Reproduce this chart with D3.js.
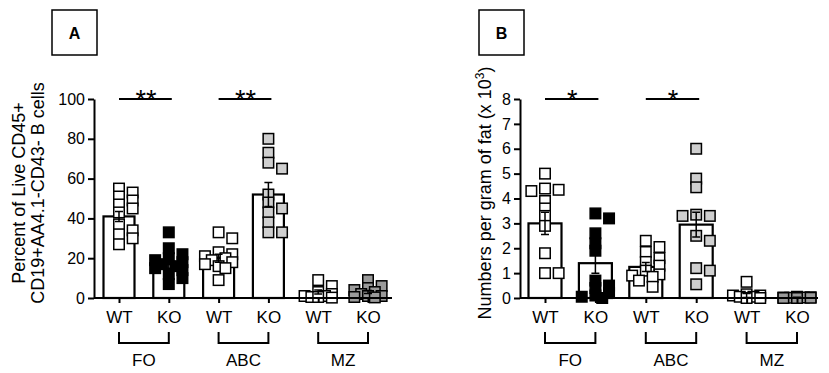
<!DOCTYPE html>
<html>
<head>
<meta charset="utf-8">
<script src="https://cdn.jsdelivr.net/npm/d3@7"></script>
<style>
  body { margin: 0; background: #fff; }
  text { font-family: Arial, "Liberation Sans", sans-serif; }
</style>
</head>
<body>
<script>
// categories
var groups = ["FO", "ABC", "MZ"];
var genotypes = ["WT", "KO"];
var keys = ["FO-WT", "FO-KO", "ABC-WT", "ABC-KO", "MZ-WT", "MZ-KO"];

// Panel A - percent of live CD45+ CD19+AA4.1-CD43- B cells
var foWtA = [55, 53, 51, 49, 47, 45, 43, 37, 34, 32, 30, 27];
var foKoA = [33, 25, 22, 20, 19, 18, 17, 16, 15, 14, 12, 10, 7];
var abcWtA = [33, 30, 23, 22, 21, 20, 19, 18, 17, 16, 15, 9];
var abcKoA = [80, 73, 68, 65, 52, 48, 45, 43, 38, 33, 33];
var mzWtA = [9, 6, 3, 2, 1, 1, 0.5, 0.5, 0.2];
var mzKoA = [9, 6, 5, 4, 3, 2, 1, 1, 0.5, 0.3];
var meansA = [41, 17, 20, 52, 3, 3];
var semA = [2.5, 2, 2, 6, 1, 0.8];
var ticksA = [0, 20, 40, 60, 80, 100];
var sigA = ["**", "**", ""];

// Panel B - numbers per gram of fat (x 10^3)
var foWtB = [5.0, 4.4, 4.35, 4.3, 3.9, 3.6, 3.3, 2.9, 1.8, 1.0, 1.0];
var foKoB = [3.4, 3.2, 2.6, 2.2, 1.9, 0.7, 0.5, 0.4, 0.2, 0.1, 0.05, 0.0];
var abcWtB = [2.3, 2.05, 1.85, 1.6, 1.45, 1.3, 1.1, 0.95, 0.9, 0.85, 0.7, 0.45];
var abcKoB = [6.0, 4.8, 4.45, 3.35, 3.3, 3.3, 2.5, 2.3, 1.2, 1.1, 0.55];
var mzWtB = [0.65, 0.15, 0.1, 0.1, 0.05, 0.05, 0.0, 0.0];
var mzKoB = [0.05, 0.03, 0.02, 0.02, 0.01, 0.01, 0, 0];
var meansB = [3.0, 1.4, 1.25, 2.95, 0.1, 0.02];
var semB = [0.45, 0.4, 0.18, 0.5, 0.08, 0.01];
var ticksB = [0, 1, 2, 3, 4, 5, 6, 7, 8];
var sigB = ["*", "*", ""];

var fills = ["#fff", "#000", "#fff", "#cfcfcf", "#fff", "#9a9a9a"];

var w = 829, h = 373;
var svg = d3.select("body").append("svg")
    .attr("width", w)
    .attr("height", h);

// spread squares sideways a bit, like a scatter dot plot (they still overlap)
function swarm(vals, y, size) {
  var placed = [];
  var order = vals.map(function(v, i) { return i; })
      .sort(function(a, b) { return vals[b] - vals[a]; });
  var steps = [0, 1, -1, 2, -2];
  order.forEach(function(i) {
    var py = y(vals[i]);
    var best = 0, bestHit = 1e9;
    for (var s = 0; s < steps.length; s++) {
      var dx = steps[s] * size * 0.65;
      var hit = 0;
      placed.forEach(function(p) {
        var ox = size * 0.7 - Math.abs(p.dx - dx), oy = size * 0.7 - Math.abs(p.y - py);
        if (ox > 0 && oy > 0) hit += ox * oy;
      });
      if (hit < bestHit - 0.01) { bestHit = hit; best = dx; }
      if (hit === 0) break;
    }
    placed.push({dx: best, y: py, v: vals[i]});
  });
  return placed;
}

function panel(o) {
  var g = svg.append("g");
  var y = d3.scaleLinear().domain(o.yDomain).range([298, 99]);
  var x = d3.scalePoint().domain(keys).range(o.xRange);

  // bars
  g.selectAll("rect.bar")
    .data(o.means)
    .enter()
    .append("rect")
    .attr("class", "bar")
    .attr("x", function(d, i) { return x(keys[i]) - o.barW / 2; })
    .attr("y", function(d) { return y(d); })
    .attr("width", o.barW)
    .attr("height", function(d) { return y(0) - y(d); })
    .attr("fill", "#fff")
    .attr("stroke", "#000")
    .attr("stroke-width", 2.2);

  // points
  var sq = 10.5;
  o.points.forEach(function(vals, i) {
    var pts = swarm(vals, y, sq);
    g.selectAll(null)
      .data(pts)
      .enter()
      .append("rect")
      .attr("x", function(p) { return x(keys[i]) + p.dx - sq / 2; })
      .attr("y", function(p) { return p.y - sq / 2; })
      .attr("width", sq)
      .attr("height", sq)
      .attr("fill", fills[i])
      .attr("stroke", "#000")
      .attr("stroke-width", 1.5);
  });

  // error bars (SEM)
  o.means.forEach(function(m, i) {
    var cx = x(keys[i]);
    var lo = y(Math.max(0, m - o.sem[i])), hi = y(m + o.sem[i]);
    g.append("path")
      .attr("d", "M" + cx + "," + lo + "V" + hi +
                 "M" + (cx - 4) + "," + hi + "H" + (cx + 4) +
                 "M" + (cx - 4) + "," + lo + "H" + (cx + 4))
      .attr("fill", "none")
      .attr("stroke", "#000")
      .attr("stroke-width", 1.5);
  });

  // y axis
  var ya = g.append("g")
    .attr("transform", "translate(" + o.axisX + ",0)")
    .call(d3.axisLeft(y).tickValues(o.ticks).tickSize(6).tickSizeOuter(0).tickPadding(3));
  ya.select(".domain").attr("stroke-width", 2);
  ya.selectAll(".tick line").attr("stroke-width", 2);
  ya.selectAll("text").attr("font-size", 16).attr("fill", "#000");

  // x axis baseline + ticks
  g.append("line")
    .attr("x1", o.axisX).attr("x2", o.xEnd)
    .attr("y1", y(0)).attr("y2", y(0))
    .attr("stroke", "#000").attr("stroke-width", 2);
  var xa = g.append("g")
    .attr("transform", "translate(0," + y(0) + ")")
    .call(d3.axisBottom(x).tickSize(5).tickPadding(8)
      .tickFormat(function(k) { return k.split("-")[1]; }));
  xa.select(".domain").remove();
  xa.selectAll(".tick line").attr("stroke-width", 2);
  xa.selectAll("text").attr("font-size", 17).attr("fill", "#000");

  // group brackets
  groups.forEach(function(gr, j) {
    var x1 = x(gr + "-" + genotypes[0]), x2 = x(gr + "-" + genotypes[1]);
    g.append("path")
      .attr("d", "M" + x1 + ",332V343H" + x2 + "V332")
      .attr("fill", "none").attr("stroke", "#000").attr("stroke-width", 2);
    g.append("text")
      .attr("x", (x1 + x2) / 2).attr("y", 366)
      .attr("text-anchor", "middle")
      .attr("font-size", 17)
      .text(gr);

    // significance
    if (o.sig[j]) {
      g.append("line")
        .attr("x1", x1).attr("x2", x2 + 3)
        .attr("y1", 99).attr("y2", 99)
        .attr("stroke", "#000").attr("stroke-width", 2);
      g.append("text")
        .attr("x", (x1 + x2) / 2 + 2).attr("y", 109)
        .attr("text-anchor", "middle")
        .attr("font-size", 27)
        .text(o.sig[j]);
    }
  });

  // panel letter box
  g.append("rect")
    .attr("x", o.box[0]).attr("y", 10)
    .attr("width", 45).attr("height", 45)
    .attr("fill", "none").attr("stroke", "#000").attr("stroke-width", 1.5);
  g.append("text")
    .attr("x", o.box[0] + 22.5).attr("y", 39)
    .attr("text-anchor", "middle")
    .attr("font-size", 16).attr("font-weight", "bold")
    .text(o.letter);

  // y label
  o.ylab.forEach(function(line, k) {
    var t = g.append("text")
      .attr("transform", "translate(" + o.ylabX[k] + ",193) rotate(-90)")
      .attr("text-anchor", "middle")
      .attr("font-size", 18);
    if (typeof line === "string") t.text(line);
    else {
      t.append("tspan").text(line[0]);
      t.append("tspan").attr("font-size", 12).attr("dy", -7).text(line[1]);
      t.append("tspan").attr("dy", 7).text(line[2]);
    }
  });
}

panel({
  letter: "A", box: [52],
  yDomain: [0, 100], ticks: ticksA,
  axisX: 94, xEnd: 392, xRange: [119, 368], barW: 31,
  points: [foWtA, foKoA, abcWtA, abcKoA, mzWtA, mzKoA],
  means: meansA, sem: semA, sig: sigA,
  ylab: ["Percent of Live CD45+", "CD19+AA4.1-CD43- B cells"],
  ylabX: [25, 44]
});

panel({
  letter: "B", box: [479],
  yDomain: [0, 8], ticks: ticksB,
  axisX: 520, xEnd: 818, xRange: [545, 797], barW: 33,
  points: [foWtB, foKoB, abcWtB, abcKoB, mzWtB, mzKoB],
  means: meansB, sem: semB, sig: sigB,
  ylab: [["Numbers per gram of fat (x 10", "3", ")"]],
  ylabX: [491]
});
</script>
</body>
</html>
